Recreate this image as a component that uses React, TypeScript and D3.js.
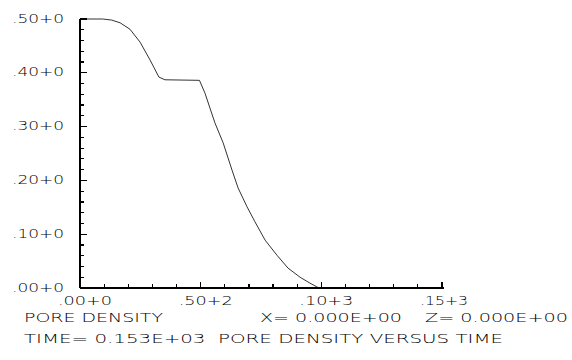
import React from 'react';
import * as d3 from 'd3';

// time (s) vs pore density
const timeVals = [0, 9.4, 13.1, 16.6, 20.7, 24.9, 29.0, 32.7, 35.2, 49.5, 51.8, 55.9, 59.3, 63.0, 65.5, 69.2, 72.5, 76.7, 81.6, 86.2, 91.2, 95.3, 99.0];
const densityVals = [0.5, 0.5, 0.498, 0.493, 0.481, 0.457, 0.424, 0.392, 0.387, 0.386, 0.362, 0.307, 0.27, 0.219, 0.186, 0.151, 0.123, 0.089, 0.061, 0.037, 0.02, 0.009, 0.0];

const yMajor = [0, 0.1, 0.2, 0.3, 0.4, 0.5];
const yTickLabels = ['.00+0', '.10+0', '.20+0', '.30+0', '.40+0', '.50+0'];
const xMajor = [0, 50, 100, 150];
const xTickLabels = ['.00+0', '.50+2', '.10+3', '.15+3'];

const FONT = '"DejaVu Sans ExtraLight", "DejaVu Sans", sans-serif';

export default function App() {
  const x = d3.scaleLinear().domain([0, 150]).range([80, 442]);
  const y = d3.scaleLinear().domain([0, 0.5]).range([288, 19]);

  const pts: [number, number][] = timeVals.map((t, i) => [t, densityVals[i]]);
  const line = d3.line<[number, number]>().x(d => x(d[0])).y(d => y(d[1]));

  const yMinor = d3.range(0, 0.5001, 0.02);
  const xMinor = d3.range(0, 150.01, 10);

  const txt = { fontFamily: FONT, fontWeight: 200, fontSize: 12.5, fill: '#000' };

  return (
    <svg width={572} height={360} style={{ position: 'absolute', left: 0, top: 0, background: '#fff' }}>
      {/* curve */}
      <path d={line(pts) || ''} fill="none" stroke="#333" strokeWidth={1} />

      {/* axes */}
      <g stroke="#000" strokeWidth={1.2} shapeRendering="crispEdges">
        <line x1={x(0)} x2={x(0)} y1={y(0.5)} y2={y(0)} />
        {yMinor.map((v, i) => (
          <line key={'ym' + i} x1={x(0)} x2={x(0) + 4} y1={y(v)} y2={y(v)} />
        ))}
        {yMajor.map((v, i) => (
          <line key={'yM' + i} x1={x(0)} x2={x(0) + 7} y1={y(v)} y2={y(v)} />
        ))}
        <line x1={x(0)} x2={x(150) + 2} y1={y(0)} y2={y(0)} />
        {xMinor.map((v, i) => (
          <line key={'xm' + i} x1={x(v)} x2={x(v)} y1={y(0)} y2={y(0) - 4} />
        ))}
        {xMajor.map((v, i) => (
          <line key={'xM' + i} x1={x(v)} x2={x(v)} y1={y(0)} y2={y(0) - 6} />
        ))}
      </g>

      {yMajor.map((v, i) => (
        <text key={'yl' + i} x={12} y={y(v) + 3.5} textLength={52} lengthAdjust="spacingAndGlyphs" {...txt}>
          {yTickLabels[i]}
        </text>
      ))}
      {xMajor.map((v, i) => (
        <text key={'xl' + i} x={x(v) - 22} y={305} textLength={i === 3 ? 48 : 54} lengthAdjust="spacingAndGlyphs" {...txt}>
          {xTickLabels[i]}
        </text>
      ))}

      <text x={24} y={322} textLength={139} lengthAdjust="spacingAndGlyphs" {...txt}>PORE DENSITY</text>
      <text x={260} y={322} textLength={142} lengthAdjust="spacingAndGlyphs" {...txt}>X= 0.000E+00</text>
      <text x={425} y={322} textLength={143} lengthAdjust="spacingAndGlyphs" {...txt}>Z= 0.000E+00</text>
      <text x={24} y={343} textLength={479} lengthAdjust="spacingAndGlyphs" style={{ whiteSpace: 'pre' }} {...txt}>
        {'TIME= 0.153E+03  PORE DENSITY VERSUS TIME'}
      </text>
    </svg>
  );
}
